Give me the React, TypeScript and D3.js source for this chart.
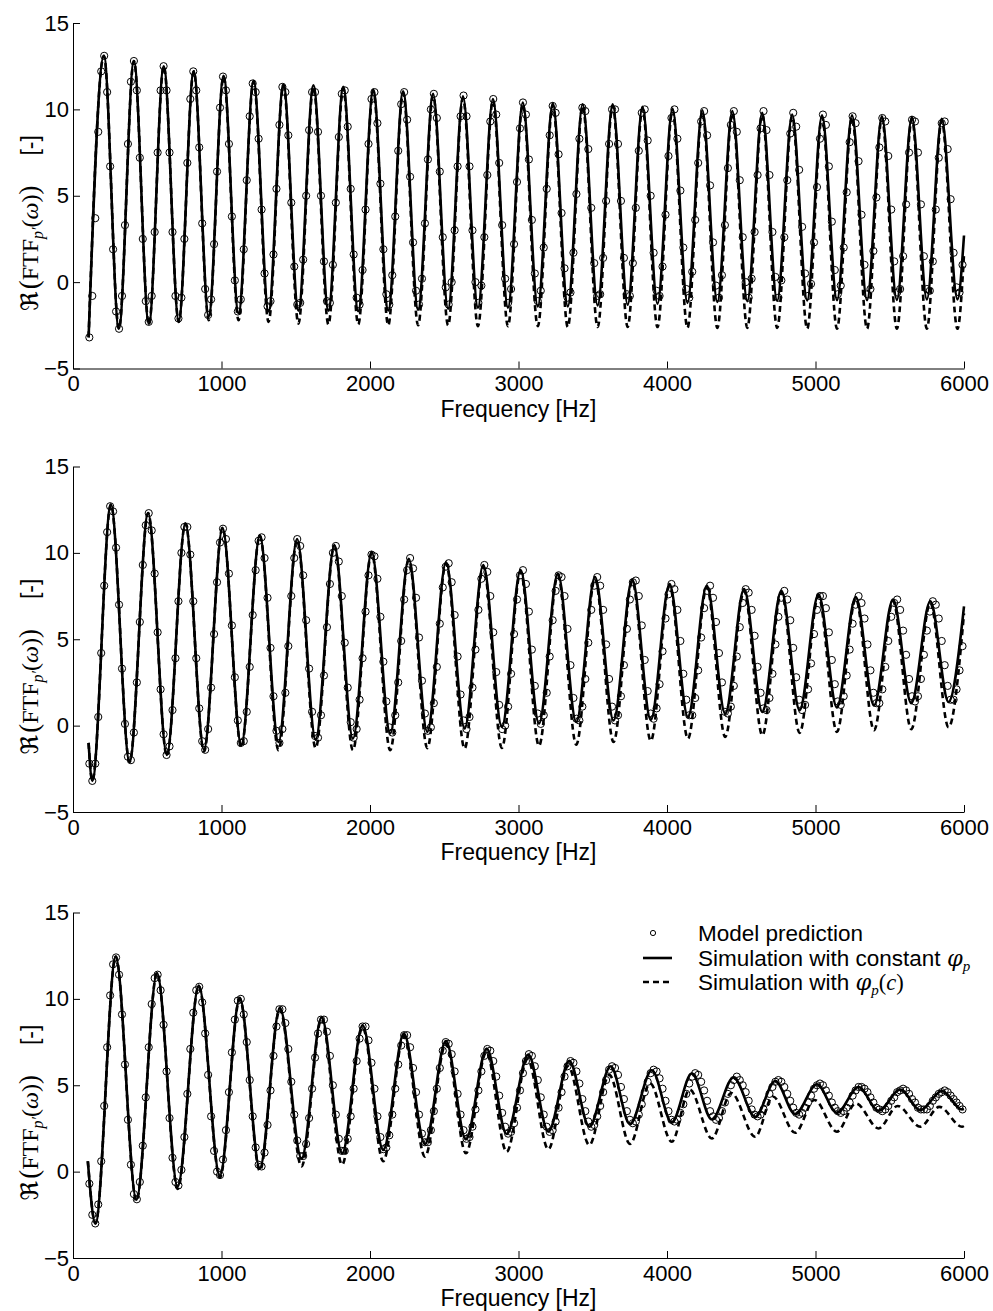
import React, { useEffect, useRef } from 'react';
import * as d3 from 'd3';

const SANS = '"Liberation Sans", Arial, Helvetica, sans-serif';
const SERIF = '"Liberation Serif", "DejaVu Serif", "Times New Roman", serif';
const MATH = '"DejaVu Serif", "DejaVu Sans", serif';

const xTicks = [0, 1000, 2000, 3000, 4000, 5000, 6000];
const yTicks = [-5, 0, 5, 10, 15];

// the model prediction is sampled every 20 Hz, 110 ... 5990 Hz
const modelFreqs = d3.range(110, 6000, 20);

// ---------- top panel ----------
const model1 = [
  -3.2, -0.8, 3.7, 8.7, 12.2, 13.1, 11.0, 6.7, 1.9, -1.7,
  -2.7, -0.8, 3.3, 8.0, 11.6, 12.8, 11.1, 7.2, 2.5, -1.1,
  -2.3, -0.8, 2.9, 7.5, 11.1, 12.5, 11.1, 7.5, 2.9, -0.8,
  -2.1, -0.9, 2.5, 6.9, 10.6, 12.2, 11.1, 7.8, 3.4, -0.4,
  -1.9, -1.0, 2.2, 6.4, 10.1, 11.9, 11.1, 8.0, 3.8, 0.1,
  -1.7, -1.0, 1.9, 5.9, 9.6, 11.5, 11.0, 8.3, 4.2, 0.5,
  -1.4, -1.1, 1.6, 5.4, 9.1, 11.3, 11.0, 8.5, 4.6, 0.9,
  -1.3, -1.2, 1.3, 5.0, 8.8, 11.0, 11.0, 8.7, 5.0, 1.2,
  -1.1, -1.2, 1.0, 4.6, 8.4, 10.9, 11.1, 9.0, 5.4, 1.6,
  -0.9, -1.3, 0.7, 4.2, 8.0, 10.6, 11.0, 9.2, 5.7, 1.9,
  -0.7, -1.3, 0.4, 3.8, 7.6, 10.3, 11.0, 9.4, 6.1, 2.3,
  -0.5, -1.3, 0.2, 3.4, 7.1, 10.0, 10.9, 9.5, 6.4, 2.6,
  -0.3, -1.3, 0.0, 3.0, 6.7, 9.6, 10.8, 9.6, 6.7, 3.0,
  0.0, -1.2, -0.2, 2.6, 6.2, 9.3, 10.6, 9.7, 6.9, 3.3,
  0.2, -1.2, -0.4, 2.2, 5.8, 8.9, 10.4, 9.7, 7.1, 3.6,
  0.5, -1.1, -0.5, 2.0, 5.4, 8.5, 10.2, 9.8, 7.4, 4.0,
  0.8, -0.9, -0.6, 1.7, 5.1, 8.3, 10.1, 9.9, 7.7, 4.3,
  1.1, -0.8, -0.7, 1.4, 4.7, 8.0, 10.0, 10.0, 8.0, 4.7,
  1.4, -0.7, -0.8, 1.1, 4.3, 7.6, 9.8, 10.0, 8.2, 5.0,
  1.7, -0.5, -0.8, 0.9, 3.9, 7.3, 9.5, 10.0, 8.3, 5.3,
  2.0, -0.4, -0.9, 0.6, 3.6, 6.9, 9.3, 9.9, 8.5, 5.6,
  2.3, -0.2, -0.9, 0.4, 3.3, 6.6, 9.1, 9.9, 8.7, 5.9,
  2.6, 0.0, -0.9, 0.2, 2.9, 6.2, 8.9, 9.9, 8.8, 6.2,
  2.9, 0.3, -0.9, 0.1, 2.6, 5.9, 8.6, 9.8, 9.0, 6.5,
  3.2, 0.5, -0.8, -0.1, 2.3, 5.5, 8.3, 9.7, 9.1, 6.7,
  3.5, 0.7, -0.7, -0.2, 2.0, 5.2, 8.1, 9.6, 9.2, 7.0,
  3.9, 1.0, -0.7, -0.4, 1.8, 4.9, 7.8, 9.5, 9.3, 7.3,
  4.2, 1.2, -0.6, -0.4, 1.5, 4.5, 7.5, 9.4, 9.3, 7.5,
  4.5, 1.5, -0.4, -0.5, 1.2, 4.2, 7.2, 9.2, 9.3, 7.7,
  4.8, 1.7, -0.3, -0.6, 1.0,
];
const peakFreq1 = [208, 410, 611, 813, 1014, 1216, 1417, 1619, 1820, 2022, 2223, 2425, 2626, 2828, 3029,
  3231, 3432, 3634, 3835, 4037, 4238, 4440, 4641, 4843, 5044, 5246, 5447, 5649, 5850];
const peakConst1 = [13.1, 12.8, 12.5, 12.2, 11.95, 11.65, 11.45, 11.4, 11.3, 11.15, 11.05, 10.9, 10.75, 10.6, 10.4,
  10.35, 10.3, 10.3, 10.15, 10.05, 9.95, 9.9, 9.8, 9.7, 9.65, 9.65, 9.6, 9.55, 9.45];
const peakVar1 = [13.1, 12.8, 12.5, 12.2, 11.9, 11.6, 11.4, 11.3, 11.2, 11.05, 10.95, 10.8, 10.65, 10.5, 10.3,
  10.25, 10.2, 10.2, 10.05, 9.95, 9.85, 9.8, 9.7, 9.6, 9.55, 9.55, 9.5, 9.45, 9.35];
const troughFreq1 = [309, 511, 712, 914, 1115, 1317, 1518, 1720, 1921, 2123, 2324, 2526, 2727, 2929, 3130,
  3332, 3533, 3735, 3936, 4138, 4339, 4541, 4742, 4944, 5145, 5347, 5548, 5750, 5956];
const troughConst1 = [-2.7, -2.42, -2.22, -1.97, -1.8, -1.7, -1.65, -1.65, -1.68, -1.64, -1.6, -1.54, -1.48, -1.48, -1.41,
  -1.41, -1.35, -1.31, -1.25, -1.2, -1.15, -1.1, -1.08, -1.06, -1.05, -1.05, -1.03, -1.0, -1.0];
const troughVar1 = [-2.7, -2.45, -2.3, -2.2, -2.2, -2.3, -2.4, -2.45, -2.45, -2.5, -2.5, -2.5, -2.55, -2.55, -2.55,
  -2.6, -2.6, -2.6, -2.6, -2.65, -2.65, -2.65, -2.65, -2.7, -2.7, -2.7, -2.7, -2.7, -2.7];
const first1 = [105, -3.2];
const lastConst1 = 2.7;
const lastVar1 = 1.6;

// ---------- middle panel ----------
const model2 = [
  -2.2, -3.2, -2.2, 0.5, 4.2, 8.1, 11.2, 12.7, 12.4, 10.3, 7.0, 3.3, 0.1, -1.8, -2.0,
  -0.4, 2.5, 6.0, 9.3, 11.6, 12.3, 11.3, 8.8, 5.4, 2.1, -0.5, -1.7,
  -1.2, 0.9, 3.9, 7.2, 10.0, 11.5, 11.5, 9.9, 7.2, 3.9, 1.0, -0.9,
  -1.4, -0.2, 2.2, 5.3, 8.3, 10.6, 11.4, 10.8, 8.8, 5.8, 2.8, 0.3, -1.0,
  -0.9, 0.8, 3.4, 6.4, 9.0, 10.7, 10.9, 9.7, 7.4, 4.5, 1.7, -0.3,
  -1.0, -0.2, 1.9, 4.6, 7.5, 9.7, 10.8, 10.4, 8.7, 6.1, 3.3, 0.8, -0.6,
  -0.7, 0.6, 2.9, 5.7, 8.2, 10.0, 10.4, 9.5, 7.5, 4.8, 2.2, 0.2, -0.7,
  -0.2, 1.5, 3.9, 6.6, 8.7, 9.9, 9.8, 8.5, 6.3, 3.7, 1.4, -0.1,
  -0.4, 0.6, 2.5, 4.9, 7.3, 9.0, 9.7, 9.1, 7.4, 5.1, 2.6, 0.7, -0.3,
  -0.1, 1.3, 3.4, 5.9, 8.0, 9.2, 9.4, 8.3, 6.4, 4.0, 1.8, 0.3,
  -0.2, 0.5, 2.2, 4.4, 6.7, 8.5, 9.3, 8.9, 7.5, 5.4, 3.1, 1.2, -0.2,
  0.0, 1.1, 3.0, 5.3, 7.3, 8.7, 9.0, 8.2, 6.6, 4.4, 2.3, 0.7, 0.1,
  0.6, 1.9, 4.0, 6.1, 7.8, 8.7, 8.6, 7.5, 5.6, 3.5, 1.6, 0.4,
  0.3, 1.1, 2.7, 4.8, 6.7, 8.1, 8.6, 8.1, 6.7, 4.7, 2.7, 1.1, 0.3,
  0.6, 1.7, 3.5, 5.6, 7.3, 8.3, 8.4, 7.5, 5.8, 3.8, 2.0, 0.7,
  0.4, 1.0, 2.4, 4.3, 6.2, 7.6, 8.2, 7.9, 6.7, 4.9, 3.0, 1.5, 0.6,
  0.6, 1.6, 3.2, 5.1, 6.8, 7.8, 8.1, 7.4, 6.0, 4.2, 2.5, 0.8, 0.7,
  1.1, 2.3, 4.0, 5.7, 7.1, 7.9, 7.7, 6.7, 5.2, 3.4, 1.9, 1.0,
  0.9, 1.6, 3.0, 4.7, 6.3, 7.4, 7.8, 7.3, 6.1, 4.5, 2.8, 1.5, 0.9,
  1.2, 2.1, 3.6, 5.3, 6.7, 7.5, 7.5, 6.8, 5.4, 3.8, 2.4, 1.4,
  1.2, 1.7, 2.9, 4.4, 5.9, 7.0, 7.5, 7.1, 6.2, 4.7, 3.2, 1.9, 1.3,
  1.3, 2.1, 3.4, 4.9, 6.3, 7.1, 7.3, 6.7, 5.5, 4.1, 2.7, 1.7,
  1.4, 1.7, 2.7, 4.1, 5.5, 6.6, 7.2, 7.0, 6.2, 4.9, 3.5, 2.3, 1.5,
  1.5, 2.1, 3.2, 4.6,
];
const peakFreq2 = [255, 506, 757, 1007, 1258, 1509, 1760, 2011, 2261, 2512, 2763, 3014, 3265, 3515, 3766,
  4017, 4268, 4519, 4770, 5020, 5271, 5522, 5773];
const peakConst2 = [12.8, 12.3, 11.7, 11.45, 11.0, 10.8, 10.45, 10.05, 9.65, 9.45, 9.3, 9.0, 8.8, 8.6, 8.45,
  8.2, 8.1, 7.9, 7.8, 7.6, 7.45, 7.3, 7.2];
const peakVar2 = [12.8, 12.3, 11.7, 11.45, 11.0, 10.75, 10.4, 10.0, 9.6, 9.4, 9.2, 8.9, 8.7, 8.5, 8.35,
  8.1, 8.0, 7.8, 7.7, 7.5, 7.35, 7.2, 7.1];
const troughFreq2 = [130, 381, 632, 882, 1133, 1384, 1634, 1885, 2136, 2386, 2637, 2888, 3138, 3389, 3640,
  3891, 4141, 4392, 4642, 4893, 5144, 5394, 5645, 5896];
const troughConst2 = [-3.2, -2.1, -1.7, -1.4, -1.15, -0.95, -0.8, -0.75, -0.45, -0.36, -0.17, -0.08, 0.12, 0.21, 0.3,
  0.33, 0.5, 0.69, 0.79, 0.9, 1.05, 1.17, 1.3, 1.37];
const troughVar2 = [-3.2, -2.1, -1.75, -1.5, -1.25, -1.42, -1.3, -1.42, -1.42, -1.3, -1.33, -1.29, -1.17, -1.1, -0.95,
  -0.88, -0.75, -0.65, -0.56, -0.42, -0.36, -0.27, -0.21, -0.1];
const first2 = [105, -1.0];
const lastConst2 = 6.9;
const lastVar2 = 6.5;

// ---------- bottom panel ----------
const model3 = [
  -0.7, -2.5, -3.0, -1.9, 0.6, 3.8, 7.2, 10.2, 12.0, 12.4, 11.4, 9.1, 6.2, 3.0, 0.4, -1.3,
  -1.6, -0.6, 1.5, 4.3, 7.2, 9.7, 11.2, 11.4, 10.5, 8.5, 5.8, 3.1, 0.8, -0.6,
  -0.8, 0.1, 2.0, 4.5, 7.1, 9.2, 10.5, 10.7, 9.8, 8.0, 5.6, 3.2, 1.2, 0.0,
  -0.2, 0.7, 2.4, 4.6, 6.9, 8.8, 9.9, 10.0, 9.1, 7.5, 5.3, 3.2, 1.4, 0.4,
  0.3, 1.1, 2.7, 4.7, 6.7, 8.4, 9.4, 9.4, 8.6, 7.1, 5.2, 3.3, 1.8, 0.9,
  0.9, 1.6, 3.1, 4.8, 6.6, 8.0, 8.8, 8.8, 8.1, 6.7, 5.0, 3.3, 1.9, 1.2,
  1.2, 1.9, 3.2, 4.8, 6.4, 7.7, 8.4, 8.4, 7.6, 6.3, 4.8, 3.2, 2.0, 1.3,
  1.4, 2.1, 3.3, 4.8, 6.2, 7.3, 7.9, 7.9, 7.2, 6.0, 4.6, 3.3, 2.2, 1.7,
  1.7, 2.4, 3.5, 4.8, 6.0, 7.0, 7.5, 7.4, 6.8, 5.8, 4.5, 3.3, 2.4, 1.9,
  2.0, 2.6, 3.6, 4.7, 5.8, 6.7, 7.1, 7.0, 6.4, 5.5, 4.4, 3.4, 2.6, 2.2,
  2.3, 2.8, 3.7, 4.7, 5.7, 6.4, 6.8, 6.7, 6.1, 5.3, 4.3, 3.3, 2.6, 2.3,
  2.4, 2.9, 3.7, 4.6, 5.5, 6.1, 6.4, 6.3, 5.8, 5.1, 4.2, 3.5, 2.9, 2.6,
  2.7, 3.2, 3.8, 4.6, 5.3, 5.9, 6.1, 6.0, 5.6, 4.9, 4.2, 3.5, 3.0, 2.8,
  2.9, 3.3, 3.9, 4.6, 5.2, 5.7, 5.9, 5.8, 5.4, 4.8, 4.1, 3.5, 3.0, 2.9,
  3.0, 3.4, 3.9, 4.5, 5.1, 5.5, 5.7, 5.6, 5.2, 4.7, 4.1, 3.5, 3.2, 3.0,
  3.1, 3.5, 4.0, 4.5, 5.0, 5.3, 5.5, 5.3, 5.0, 4.6, 4.1, 3.6, 3.3,
  3.2, 3.3, 3.6, 4.0, 4.5, 4.9, 5.2, 5.3, 5.2, 4.9, 4.5, 4.1, 3.7, 3.4,
  3.3, 3.4, 3.7, 4.0, 4.4, 4.8, 5.0, 5.1, 5.0, 4.7, 4.4, 4.0, 3.7, 3.5,
  3.4, 3.5, 3.7, 4.0, 4.4, 4.7, 4.9, 4.9, 4.8, 4.6, 4.3, 4.0, 3.7, 3.6,
  3.5, 3.6, 3.8, 4.1, 4.3, 4.6, 4.7, 4.8, 4.7, 4.5, 4.2, 4.0, 3.7, 3.6,
  3.6, 3.6, 3.8, 4.1, 4.3, 4.5, 4.6, 4.7, 4.6, 4.4, 4.2, 4.0, 3.8, 3.6,
];
const peakFreq3 = [288, 566, 847, 1123, 1393, 1674, 1950, 2228, 2511, 2786, 3066, 3342, 3621, 3898, 4167,
  4448, 4729, 5010, 5290, 5571, 5852];
const peakConst3 = [12.45, 11.5, 10.77, 10.06, 9.49, 8.94, 8.47, 7.99, 7.56, 7.12, 6.77, 6.41, 6.1, 5.87, 5.68,
  5.45, 5.25, 5.06, 4.9, 4.75, 4.67];
const peakFreqVar3 = [288, 566, 847, 1123, 1393, 1674, 1950, 2228, 2511, 2783, 3061, 3334, 3611, 3886, 4153,
  4433, 4713, 4993, 5272, 5553, 5834];
const peakVar3 = [12.45, 11.5, 10.75, 10.0, 9.4, 8.85, 8.35, 7.85, 7.4, 6.9, 6.5, 6.1, 5.6, 5.1, 4.75,
  4.55, 4.35, 4.15, 3.95, 3.8, 3.75];
const troughFreq3 = [151, 427, 705, 989, 1258, 1539, 1812, 2089, 2370, 2646, 2920, 3201, 3477, 3751, 4032,
  4302, 4594, 4863, 5144, 5425, 5706, 5987];
const troughConst3 = [-3.0, -1.63, -0.87, -0.25, 0.2, 0.77, 1.06, 1.25, 1.6, 1.87, 2.18, 2.31, 2.6, 2.75, 2.85,
  3.02, 3.17, 3.33, 3.4, 3.52, 3.56, 3.6];
const troughVar3 = [-3.0, -1.7, -1.0, -0.35, 0.05, 0.3, 0.4, 0.6, 0.87, 1.06, 1.15, 1.29, 1.54, 1.6, 1.73,
  1.92, 2.02, 2.25, 2.31, 2.5, 2.6, 2.6];
const first3 = [100, 0.6];
const lastConst3 = 3.62;
const lastVar3 = 2.65;

const legendLabels = ['Model prediction', 'Simulation with constant ', 'Simulation with '];

// simulated curve: start point, the extrema read off the plot, and the value at 6000 Hz
function simCurve(first: number[], pf: number[], pv: number[], tf: number[], tv: number[], last: number) {
  const pts: number[][] = [first];
  pf.forEach((f, i) => pts.push([f, pv[i]]));
  tf.forEach((f, i) => pts.push([f, tv[i]]));
  pts.push([6000, last]);
  return pts.sort((a, b) => a[0] - b[0]);
}

const panels = [
  {
    top: 23,
    model: model1,
    solid: simCurve(first1, peakFreq1, peakConst1, troughFreq1, troughConst1, lastConst1),
    dashed: simCurve(first1, peakFreq1, peakVar1, troughFreq1, troughVar1, lastVar1),
  },
  {
    top: 466.5,
    model: model2,
    solid: simCurve(first2, peakFreq2, peakConst2, troughFreq2, troughConst2, lastConst2),
    dashed: simCurve(first2, peakFreq2, peakVar2, troughFreq2, troughVar2, lastVar2),
  },
  {
    top: 912.5,
    model: model3,
    solid: simCurve(first3, peakFreq3, peakConst3, troughFreq3, troughConst3, lastConst3),
    dashed: simCurve(first3, peakFreqVar3, peakVar3, troughFreq3, troughVar3, lastVar3),
  },
];

const PANEL_H = 345.5;
const LEFT = 73;
const RIGHT = 964;

export default function App() {
  const ref = useRef<SVGSVGElement>(null);

  useEffect(() => {
    const svg = d3.select(ref.current);
    svg.selectAll('*').remove();

    const x = d3.scaleLinear().domain([0, 6000]).range([LEFT, RIGHT]);

    panels.forEach((p) => {
      const y = d3.scaleLinear().domain([-5, 15]).range([p.top + PANEL_H, p.top]);
      const g = svg.append('g');

      g.append('g')
        .selectAll('circle')
        .data(p.model)
        .enter()
        .append('circle')
        .attr('cx', (d, i) => x(modelFreqs[i]))
        .attr('cy', (d) => y(d))
        .attr('r', 3.6)
        .attr('fill', 'none')
        .attr('stroke', '#000')
        .attr('stroke-width', 1);

      const line = d3
        .line<number[]>()
        .x((d) => x(d[0]))
        .y((d) => y(d[1]))
        .curve(d3.curveMonotoneX);

      g.append('path')
        .attr('d', line(p.solid))
        .attr('fill', 'none')
        .attr('stroke', '#000')
        .attr('stroke-width', 2.6)
        .attr('stroke-linejoin', 'round');

      g.append('path')
        .attr('d', line(p.dashed))
        .attr('fill', 'none')
        .attr('stroke', '#000')
        .attr('stroke-width', 2.6)
        .attr('stroke-dasharray', '6,4');

      const ax = g
        .append('g')
        .attr('transform', `translate(0,${p.top + PANEL_H})`)
        .call(d3.axisBottom(x).tickValues(xTicks).tickFormat(d3.format('d')).tickSizeInner(-7).tickSizeOuter(0).tickPadding(7));
      const ay = g
        .append('g')
        .attr('transform', `translate(${LEFT},0)`)
        .call(d3.axisLeft(y).tickValues(yTicks).tickFormat(d3.format('d')).tickSizeInner(-7).tickSizeOuter(0).tickPadding(4));
      [ax, ay].forEach((a) => {
        a.attr('font-family', SANS).attr('font-size', 22);
        a.selectAll('text').attr('fill', '#000');
        a.selectAll('line, path').attr('stroke', '#000');
      });

      g.append('text')
        .attr('x', (LEFT + RIGHT) / 2)
        .attr('y', p.top + PANEL_H + 48)
        .attr('text-anchor', 'middle')
        .attr('font-family', SANS)
        .attr('font-size', 23)
        .text('Frequency [Hz]');

      // y label: Re(FTF_p'(omega))   [-]
      const yl = g
        .append('text')
        .attr('transform', `translate(38,${p.top + 200}) rotate(-90)`)
        .attr('text-anchor', 'middle')
        .attr('font-family', SERIF)
        .attr('font-size', 24);
      yl.append('tspan').attr('font-family', MATH).text('ℜ');
      yl.append('tspan').attr('dx', 2).attr('font-size', 27).text('(');
      yl.append('tspan').text('FTF');
      yl.append('tspan').attr('font-style', 'italic').attr('font-size', 16).attr('dy', 5).text('p′');
      yl.append('tspan').attr('dy', -5).text('(');
      yl.append('tspan').attr('font-style', 'italic').text('ω');
      yl.append('tspan').text(')');
      yl.append('tspan').attr('font-size', 27).text(')');
      yl.append('tspan').attr('font-family', SANS).attr('font-size', 23).attr('dx', 30).text('[-]');
    });

    // legend, bottom panel
    const lg = svg.append('g');
    const rows = [933, 958, 982];
    lg.append('circle').attr('cx', 653).attr('cy', rows[0]).attr('r', 2.6).attr('fill', 'none').attr('stroke', '#000');
    lg.append('line').attr('x1', 643).attr('x2', 672).attr('y1', rows[1]).attr('y2', rows[1])
      .attr('stroke', '#000').attr('stroke-width', 2.6);
    lg.append('line').attr('x1', 643).attr('x2', 672).attr('y1', rows[2]).attr('y2', rows[2])
      .attr('stroke', '#000').attr('stroke-width', 2.6).attr('stroke-dasharray', '6,4');

    rows.forEach((ry, i) => {
      const t = lg.append('text').attr('x', 698).attr('y', ry + 8).attr('font-family', SANS).attr('font-size', 22.5);
      t.append('tspan').text(legendLabels[i]);
      if (i > 0) {
        t.append('tspan').attr('font-family', MATH).attr('font-style', 'italic').text('φ');
        t.append('tspan').attr('font-family', SERIF).attr('font-style', 'italic').attr('font-size', 15).attr('dy', 5).text('p');
      }
      if (i === 2) {
        t.append('tspan').attr('font-family', SERIF).attr('dy', -5).text('(');
        t.append('tspan').attr('font-family', SERIF).attr('font-style', 'italic').text('c');
        t.append('tspan').attr('font-family', SERIF).text(')');
      }
    });
  }, []);

  return (
    <svg
      ref={ref}
      width={993}
      height={1311}
      style={{ position: 'absolute', left: 0, top: 0, background: '#fff' }}
    />
  );
}
